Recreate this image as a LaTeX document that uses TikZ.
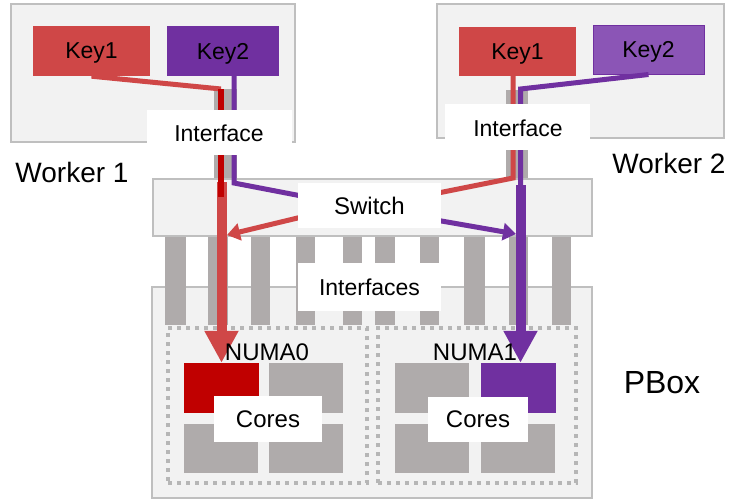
\documentclass[tikz,border=0pt]{standalone}
\usepackage{fontspec}
\setmainfont{Liberation Sans}
\usetikzlibrary{arrows.meta,fit}
\definecolor{boxfill}{HTML}{F2F2F2}
\definecolor{bord}{HTML}{BFBFBF}
\definecolor{keyred}{HTML}{CF4747}
\definecolor{darkred}{HTML}{C00000}
\definecolor{purp}{HTML}{7030A0}
\definecolor{lpurp}{HTML}{8B55B6}
\definecolor{bargray}{HTML}{AFABAB}
\definecolor{dotgray}{HTML}{B6B6B6}
\begin{document}
\begin{tikzpicture}[x=1pt,y=-1pt,
  box/.style={draw=bord, fill=boxfill, line width=2pt, inner sep=0pt},
  rect/.style={inner sep=0pt, draw=none},
  fs/.style={font=\fontsize{#1}{#1}\selectfont},
  lab/.style={fill=white, inner sep=0pt},
  txt/.style={inner sep=0pt, text depth=0pt, fs=23},
  numa/.style={draw=dotgray, line width=3.6pt, dash pattern=on 4pt off 5pt, inner sep=0pt},
  thinline/.style={line width=5pt},
  bigarrow/.style={line width=10pt, -{Triangle[width=32pt,length=32pt]}},
  smallarrow/.style={line width=5pt, -{Triangle[width=17pt,length=13pt]}},
]
\useasboundingbox (0,0) rectangle (729,501);

% worker boxes
\node[box, fit={(11,4)(295,142)}] (w1) {};
\node[box, fit={(437,4)(724,138)}] (w2) {};

% keys
\node[rect, fill=keyred, fit={(33,26)(150,76)}] (k11) {};
\node[rect, fill=purp, fit={(167,26)(279,76)}] (k12) {};
\node[rect, fill=keyred, fit={(459,27)(576,76)}] (k21) {};
\node[rect, fill=lpurp, draw=purp, line width=1pt, fit={(593,25)(704,74)}] (k22) {};
\node[txt] (k11t) at (k11.center) {Key1};
\node[txt] (k12t) at (k12.center) {Key2};
\node[txt] (k21t) at (k21.center) {Key1};
\node[txt] (k22t) at (k22.center) {Key2};

% interface columns
\node[rect, fill=bargray, fit={(214,89)(237,180)}] (col1) {};
\node[rect, fill=bargray, fit={(506,90)(528,180)}] (col2) {};

% switch
\node[box, fit={(153,179)(592,236)}] (sw) {};

% PBox
\node[box, fit={(152,287)(592,498)}] (pb) {};
\foreach \a/\b in {165/186,208/228,251/270,296/315,343/362,375/395,420/439,464/485,509/528,552/571}
  \fill[bargray] (\a,237) rectangle (\b,325);

% NUMA domains
\node[numa, fit={(168,328)(367,483)}] (n0) {};
\node[numa, fit={(378,328)(576,483)}] (n1) {};

% cores
\node[rect, fill=darkred, fit={(184,363)(259,413)}] (c00) {};
\node[rect, fill=bargray, fit={(269,363)(343,413)}] (c01) {};
\node[rect, fill=bargray, fit={(184,424)(258,473)}] (c02) {};
\node[rect, fill=bargray, fit={(269,424)(343,473)}] (c03) {};
\node[rect, fill=bargray, fit={(395,363)(469,413)}] (c10) {};
\node[rect, fill=purp, fit={(481,363)(556,413)}] (c11) {};
\node[rect, fill=bargray, fit={(395,424)(469,473)}] (c12) {};
\node[rect, fill=bargray, fit={(481,424)(555,473)}] (c13) {};

% path coordinates
\coordinate (r1a) at (221,89);
\coordinate (r1b) at (221,197);
\coordinate (ra) at (221.5,182);
\coordinate (p1a) at (234,183);
\coordinate (p1b) at (312,198);
\coordinate (r2a) at (513,178);
\coordinate (r2b) at (428,195);
\coordinate (p2a) at (520.5,89);
\coordinate (p2b) at (520.5,186);
\coordinate (pa) at (520.5,185);
\coordinate (rs0) at (310,215);
\coordinate (rs1) at (227,235);
\coordinate (ps0) at (430,219);
\coordinate (ps1) at (516,234);

% worker 1 lines
\draw[keyred, bigarrow] (ra) -- (c00.north -| ra);
\draw[keyred, thinline] (k11.south) -- (r1a);
\draw[darkred, line width=6pt] (r1a) -- (r1b);
\draw[purp, thinline] (k12.south -| p1a) -- (p1a) -- (p1b);

% worker 2 lines
\draw[keyred, thinline] (k21.south -| r2a) -- (r2a) -- (r2b);
\draw[purp, thinline] (k22.south) -- (p2a) -- (p2b);
\draw[purp, bigarrow] (pa) -- (c11.north -| pa);

% switch arrows
\draw[keyred, smallarrow] (rs0) -- (rs1);
\draw[purp, smallarrow] (ps0) -- (ps1);

% white labels
\node[lab, fit={(147,110)(292,155)}] (i1) {};
\node[lab, fit={(445,104)(590,150)}] (i2) {};
\node[lab, fit={(298,183)(441,228)}] (sl) {};
\node[lab, fit={(298,263)(441,311)}] (il) {};
\node[lab, fit={(214,396)(322,442)}] (cl0) {};
\node[lab, fit={(428,397)(528,442)}] (cl1) {};
\node[txt] (i1t) at (219,133) {Interface};
\node[txt] (i2t) at (518,128) {Interface};
\node[txt, fs=24] (slt) at (sl.center) {Switch};
\node[txt] (ilt) at (il.center) {Interfaces};
\node[txt, fs=24] (cl0t) at (cl0.center) {Cores};
\node[txt, fs=24] (cl1t) at (cl1.center) {Cores};

% plain texts
\node[txt, fs=24] (nl0) at (267,352) {NUMA0};
\node[txt, fs=24] (nl1) at (475,352) {NUMA1};
\node[txt, fs=28] (wl1) at (72,172) {Worker 1};
\node[txt, fs=28] (wl2) at (669,163) {Worker 2};
\node[txt, fs=32] (pbl) at (662,382) {PBox};
\end{tikzpicture}
\end{document}
